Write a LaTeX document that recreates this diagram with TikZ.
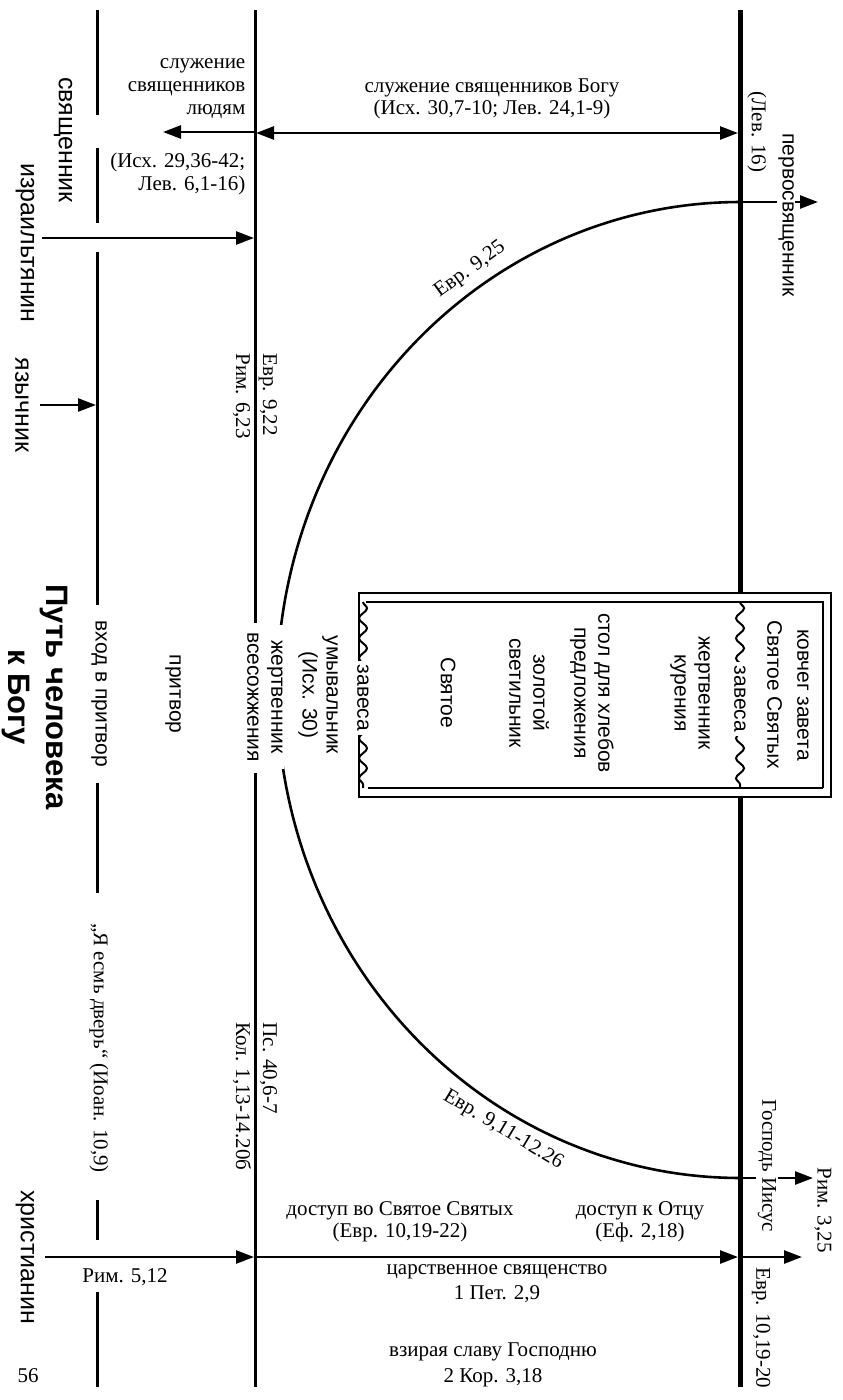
\documentclass[tikz,border=0pt]{standalone}
\usepackage{fontspec}
\setmainfont{Liberation Serif}
\setsansfont{Liberation Sans}
\usetikzlibrary{arrows.meta,decorations.pathmorphing}
\begin{document}
\begin{tikzpicture}[x=1pt,y=-1pt,
  sr/.style={font=\fontsize{21}{23}\selectfont, inner sep=0.5pt, align=center},
  sn/.style={font=\sffamily\fontsize{21}{24}\selectfont, inner sep=0.5pt, align=center},
  ppl/.style={font=\sffamily\fontsize{25}{28}\selectfont, inner sep=0.5pt, rotate=-90},
  ttl/.style={font=\sffamily\bfseries\fontsize{31}{38}\selectfont, align=center, rotate=-90, inner sep=0.5pt},
  vt/.style={rotate=-90},
  wb/.style={fill=white, inner xsep=4pt, inner ysep=1.5pt},
  arw/.style={line width=2.6pt, -{Triangle[length=18pt,width=13pt]}},
  darw/.style={line width=2.6pt, {Triangle[length=18pt,width=13pt]}-{Triangle[length=18pt,width=13pt]}},
  thinv/.style={line width=3pt},
  thickv/.style={line width=5pt},
  crv/.style={line width=2.6pt},
  wavy/.style={line width=2pt, decorate, decoration={snake, amplitude=4pt, segment length=20pt}},
]
\useasboundingbox (0,0) rectangle (843,1400);

% ---- coordinates of the three vertical lines
\coordinate (a1) at (97,10);   \coordinate (a2) at (97,115);
\coordinate (a3) at (97,148);  \coordinate (a4) at (97,223);
\coordinate (a5) at (97,252);  \coordinate (a6) at (97,605);
\coordinate (a7) at (97,783);  \coordinate (a8) at (97,893);
\coordinate (a9) at (97,1200); \coordinate (a10) at (97,1240);
\coordinate (a11) at (97,1292);\coordinate (a12) at (97,1387);
\coordinate (b1) at (255,10);  \coordinate (b2) at (255,623);
\coordinate (b3) at (255,773); \coordinate (b4) at (255,1387);
\coordinate (c1) at (740,10);  \coordinate (c2) at (740,593);
\coordinate (c3) at (740,797); \coordinate (c4) at (740,1387);

\draw[thinv] (a1) -- (a2) (a3) -- (a4) (a5) -- (a6) (a7) -- (a8)
             (a9) -- (a10) (a11) -- (a12);
\draw[thinv] (b1) -- (b2) (b3) -- (b4);
\draw[thickv] (c1) -- (c2) (c3) -- (c4);

% ---- tabernacle box
\draw[line width=1.2pt] (359,593) rectangle (831,797);
\draw[line width=1.2pt] (366,602) -- (823,602) -- (823,788);
\draw[line width=2pt] (368,788) -- (823,788);
\coordinate (wl1) at (363,602); \coordinate (wl2) at (363,788);
\coordinate (wr1) at (740,602); \coordinate (wr2) at (740,788);
\draw[wavy] (wl1) -- (wl2);
\draw[wavy] (wr1) -- (wr2);

% ---- curve of the high priest / Lord Jesus
\draw[crv] plot[domain=-90:-270, samples=140, smooth] ({740+463*cos(\x)},{690+488*sin(\x)});
\coordinate (ct) at (740,202); \coordinate (pt) at (818,202);
\coordinate (cb) at (740,1178); \coordinate (pb) at (813,1178);
\draw[arw] (ct) -- (pt);
\draw[arw] (cb) -- (pb);

% ---- horizontal arrows
\coordinate (s1) at (255,132); \coordinate (s2) at (163,132);
\draw[arw] (s1) -- (s2);
\coordinate (g1) at (256,133); \coordinate (g2) at (738,133);
\draw[darw] (g1) -- (g2);
\coordinate (i1) at (42,238); \coordinate (i2) at (254,238);
\draw[arw] (i1) -- (i2);
\coordinate (j1) at (40,405); \coordinate (j2) at (96,405);
\draw[arw] (j1) -- (j2);
\coordinate (h1) at (45,1257); \coordinate (h2) at (254,1257);
\coordinate (h3) at (738,1257); \coordinate (h4) at (802,1257);
\draw[arw] (h1) -- (h2);
\draw[arw] (b4 |- h1) -- (h3);
\draw[arw] (c4 |- h1) -- (h4);

% ---- horizontal texts
\node[sr, align=right, anchor=east] (sl) at (246,89) {служение\\священников\\людям};
\node[sr, align=right, anchor=east] (slr) at (246,174) {(Исх. 29,36-42;\\Лев. 6,1-16)};
\node[sr, font=\fontsize{21}{22}\selectfont] (sb) at (492,99) {служение священников Богу\\(Исх. 30,7-10; Лев. 24,1-9)};
\node[sr, font=\fontsize{21}{22}\selectfont] (d1) at (400,1222) {доступ во Святое Святых\\(Евр. 10,19-22)};
\node[sr, font=\fontsize{21}{22}\selectfont] (d2) at (640,1222) {доступ к Отцу\\(Еф. 2,18)};
\node[sr, font=\fontsize{21}{25}\selectfont] (cs) at (497,1284) {царственное священство\\1 Пет. 2,9};
\node[sr, font=\fontsize{21}{26}\selectfont] (vz) at (493,1365) {взирая славу Господню\\2 Кор. 3,18};
\node[sr] (r512) at (125,1277) {Рим. 5,12};
\node[sr] (pg) at (28,1376) {56};

% ---- rotated texts, left part
\node[ppl] (svj) at (63,140) {священник};
\node[ppl] (izr) at (25,243) {израильтянин};
\node[ppl] (jaz) at (22,405) {язычник};
\node[ppl] (xr) at (25,1257) {христианин};
\node[ttl] (title) at (35,697) {Путь человека\\к Богу};
\node[sn,vt] (vh) at (99,694) {вход в притвор};
\node[sr,vt] (dv) at (99,1048) {„Я есмь дверь“ (Иоан. 10,9)};
\node[sn,vt] (pr) at (173,694) {притвор};
\node[sr,vt,align=left,anchor=west,font=\fontsize{21}{27}\selectfont] (e922) at (255,353) {Евр. 9,22\\Рим. 6,23};
\node[sr,vt,align=left,anchor=west,font=\fontsize{21}{27}\selectfont] (ps) at (255,1022) {Пс. 40,6-7\\Кол. 1,13-14.20б};

% ---- rotated texts, middle and box
\node[sn,vt,wb,inner xsep=7pt] (zv) at (265,697) {жертвенник\\всесожжения};
\node[sn,vt] (um) at (318,695) {умывальник\\(Исх. 30)};
\node[sn,vt,wb] (zl) at (363,698) {завеса};
\node[sn,vt] (sv) at (448,693) {Святое};
\node[sn,vt] (zs) at (529,693) {золотой\\светильник};
\node[sn,vt] (st) at (592,693) {стол для хлебов\\предложения};
\node[sn,vt] (zk) at (690,693) {жертвенник\\курения};
\node[sn,vt,wb] (zr) at (740,699) {завеса};
\node[sn,vt,font=\sffamily\fontsize{21}{30}\selectfont] (kv) at (788,695) {ковчег завета\\Святое Святых};

% ---- rotated texts, right part
\node[sr,vt] (lev16) at (757,132) {(Лев. 16)};
\node[sn,vt,wb,inner xsep=1pt] (perv) at (786,215) {первосвященник};
\node[sr,rotate=36] (e925) at (470,270) {Евр. 9,25};
\node[sr,rotate=-31] (e911) at (503,1130) {Евр. 9,11-12.26};
\node[sr,vt,wb,inner xsep=1pt] (gi) at (767,1166) {Господь Иисус};
\node[sr,vt] (r325) at (823,1210) {Рим. 3,25};
\node[sr,vt] (e1019) at (761,1328) {Евр. 10,19-20};
\end{tikzpicture}
\end{document}
